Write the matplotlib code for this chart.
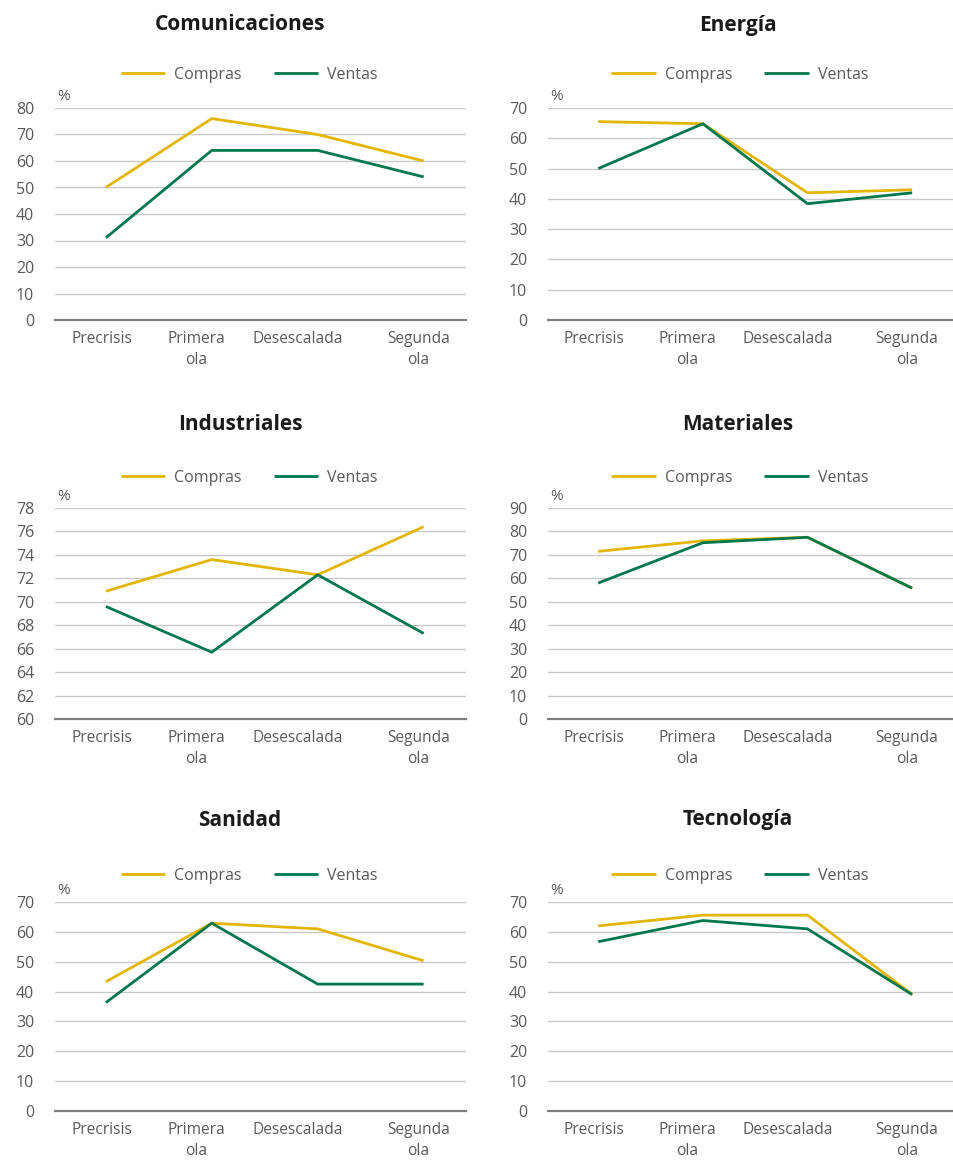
import matplotlib
matplotlib.use("Agg")
import matplotlib.pyplot as plt

W, H = 954, 1162
plt.rcParams["font.family"] = ["Open Sans", "DejaVu Sans"]

CATEGORIES = ["Precrisis", "Primera\nola", "Desescalada", "Segunda\nola"]
SERIES = ["Compras", "Ventas"]

TITLES = ["Comunicaciones", "Energía", "Industriales", "Materiales", "Sanidad", "Tecnología"]

comunicaciones_compras = [50, 76, 70, 60]
comunicaciones_ventas = [31, 64, 64, 54]
energia_compras = [65.5, 64.8, 42, 43]
energia_ventas = [50, 64.8, 38.4, 42]
industriales_compras = [70.9, 73.6, 72.3, 76.4]
industriales_ventas = [69.6, 65.7, 72.3, 67.3]
materiales_compras = [71.5, 76, 77.5, 55.8]
materiales_ventas = [58, 75.2, 77.5, 55.8]
sanidad_compras = [43.3, 62.9, 61, 50.3]
sanidad_ventas = [36.3, 62.9, 42.5, 42.5]
tecnologia_compras = [62, 65.6, 65.6, 39]
tecnologia_ventas = [56.7, 63.8, 61, 39]

Y_TICKS = [
    list(range(0, 81, 10)),
    list(range(0, 71, 10)),
    list(range(60, 79, 2)),
    list(range(0, 91, 10)),
    list(range(0, 71, 10)),
    list(range(0, 71, 10)),
]

PANELS = [
    (comunicaciones_compras, comunicaciones_ventas),
    (energia_compras, energia_ventas),
    (industriales_compras, industriales_ventas),
    (materiales_compras, materiales_ventas),
    (sanidad_compras, sanidad_ventas),
    (tecnologia_compras, tecnologia_ventas),
]

YELLOW = "#E3B505"
GREEN = "#00784B"
GRID = "#C9C9C9"
TXT = "#595959"

# pixel layout: (left, right) per column, (top, bottom, title y, legend y) per row
COLS = [(55, 466), (548, 954)]
ROWS = [(108, 320, 25, 75), (508, 719, 425, 478), (902, 1111, 820, 876)]
TITLE_X = [240, 738]
LABEL_POS = [-0.04, 0.85, 1.81, 2.95]

fig = plt.figure(figsize=(W / 100, H / 100), dpi=100)

for i, (title, (compras, ventas), yt) in enumerate(zip(TITLES, PANELS, Y_TICKS)):
    r, c = divmod(i, 2)
    l, rr = COLS[c]
    top, bot, ty, ly = ROWS[r]
    ax = fig.add_axes([l / W, 1 - bot / H, (rr - l) / W, (bot - top) / H])
    x = range(len(CATEGORIES))
    ax.plot(x, compras, color=YELLOW, lw=2.0, label=SERIES[0], solid_capstyle="butt")
    ax.plot(x, ventas, color=GREEN, lw=2.0, label=SERIES[1], solid_capstyle="butt")
    ax.set_xlim(-0.48, 3.4)
    ax.set_ylim(yt[0], yt[-1])
    ax.set_yticks(yt)
    ax.set_xticks(LABEL_POS)
    ax.set_xticklabels(CATEGORIES, linespacing=1.4)
    ax.tick_params(axis="both", length=0, labelsize=11.2, colors=TXT)
    ax.tick_params(axis="y", labelsize=11.5, pad=15)
    ax.tick_params(axis="x", pad=8)
    for t in yt[1:]:
        ax.axhline(t, color=GRID, lw=1.0, zorder=0)
    for s in ["top", "right", "left"]:
        ax.spines[s].set_visible(False)
    ax.spines["bottom"].set_color("#7F7F7F")
    ax.spines["bottom"].set_linewidth(1.6)
    ax.text(0.005, 1.02, "%", transform=ax.transAxes, fontsize=11, color=TXT,
            ha="left", va="bottom")
    cx = (l + rr) / 2 / W - 0.012
    ax.legend(loc="center", bbox_to_anchor=(cx, 1 - ly / H), bbox_transform=fig.transFigure,
              ncol=2, frameon=False, fontsize=11.5, handlelength=2.8, handletextpad=0.55,
              columnspacing=2.0, labelcolor=TXT)
    fig.text(TITLE_X[c] / W, 1 - ty / H, title, ha="center", va="center",
             fontsize=15, fontweight="bold", color="#1A1A1A")

fig.savefig("out.png", dpi=100)
